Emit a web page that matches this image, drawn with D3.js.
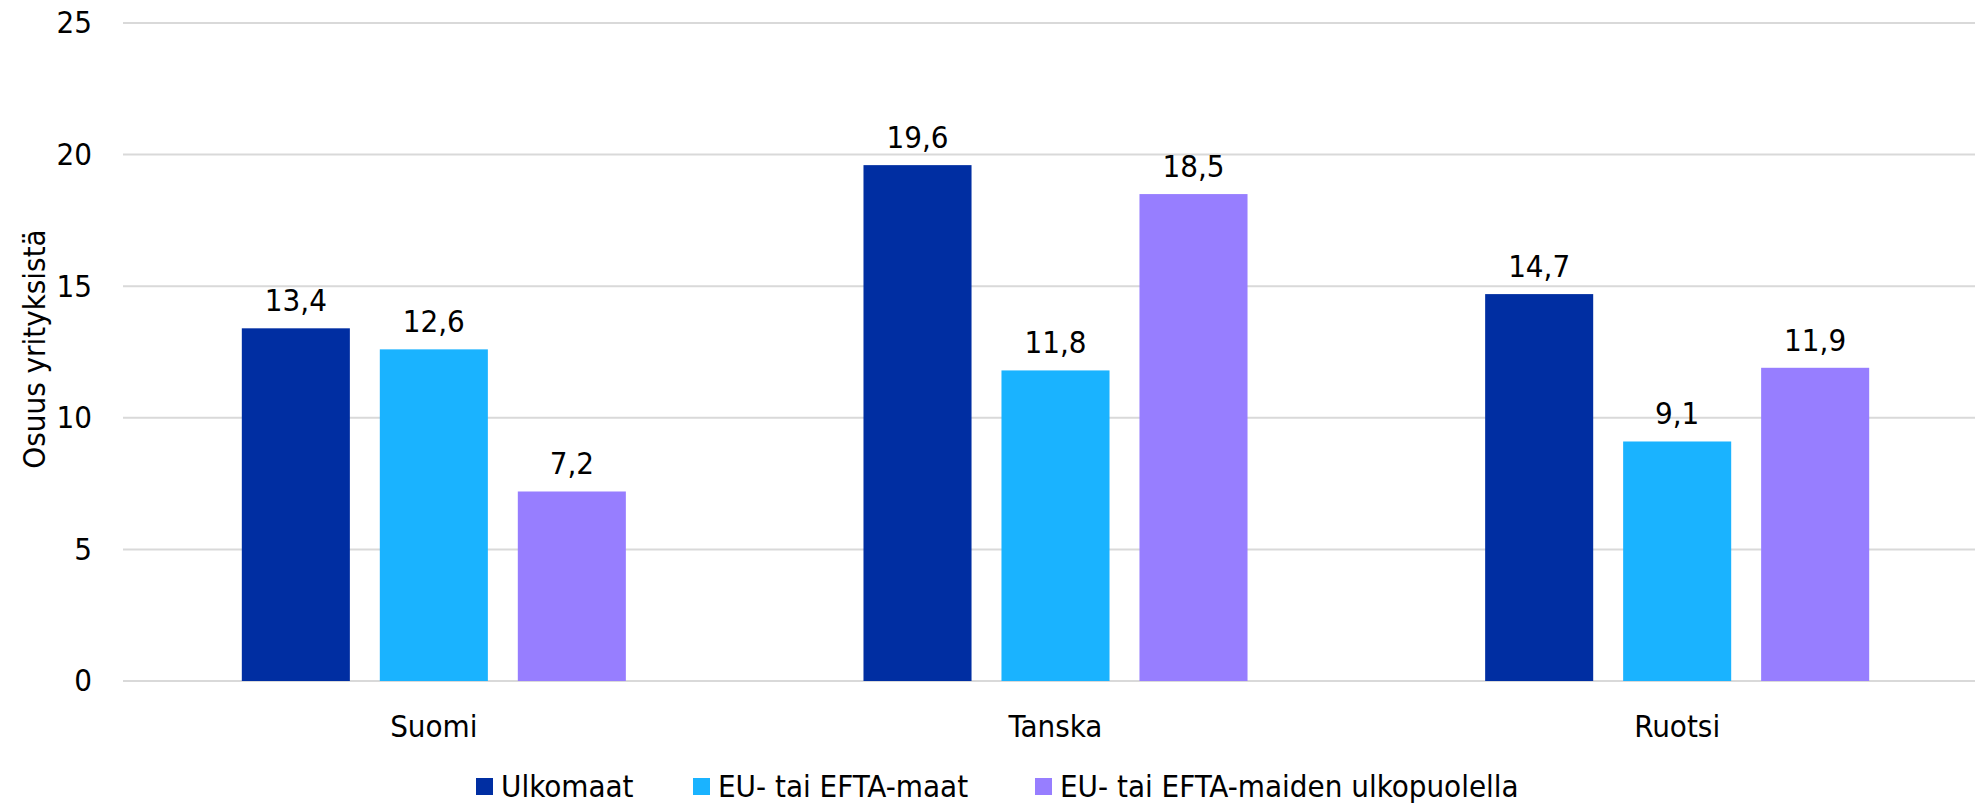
<!DOCTYPE html>
<html><head><meta charset="utf-8">
<script src="https://cdn.jsdelivr.net/npm/d3@7/dist/d3.min.js"></script>
<style>
html,body{margin:0;padding:0;background:#fff;}
svg text{font-family:"DejaVu Sans Condensed","DejaVu Sans",sans-serif;font-stretch:condensed;fill:#000;}
</style></head>
<body>
<svg id="chart" width="1975" height="803"></svg>
<script>
const categories = ["Suomi", "Tanska", "Ruotsi"];
const seriesNames = ["Ulkomaat", "EU- tai EFTA-maat", "EU- tai EFTA-maiden ulkopuolella"];
const ulkomaat = [13.4, 19.6, 14.7];
const euEfta = [12.6, 11.8, 9.1];
const ulkopuolella = [7.2, 18.5, 11.9];
const yTicks = [0, 5, 10, 15, 20, 25];
const colors = ["#002EA2", "#1AB3FF", "#977EFF"];
const yTitle = "Osuus yrityksistä";

(function(){
const series = [ulkomaat, euEfta, ulkopuolella];
const svg = d3.select("#chart");
const W = 1975;
const mLeft = 123, mRight = 1988, mTop = 23, mBottom = 681;
const fs = 31;

const x0 = d3.scaleBand().domain(categories).range([mLeft, mRight]).paddingInner(0).paddingOuter(0);
const x1 = d3.scaleBand().domain(d3.range(series.length)).range([0, x0.bandwidth()]).paddingInner(0.217).paddingOuter(0.861);
const y = d3.scaleLinear().domain([0, 25]).range([mBottom, mTop]);

svg.append("g").selectAll("line").data(yTicks).join("line")
  .attr("x1", mLeft).attr("x2", W)
  .attr("y1", d => y(d)).attr("y2", d => y(d))
  .attr("stroke", "#D9D9D9").attr("stroke-width", 2);

const yAxis = d3.axisLeft(y).tickValues(yTicks).tickSize(0).tickPadding(0).tickFormat(d => d);
const gy = svg.append("g").attr("transform", `translate(92,0)`).call(yAxis);
gy.select(".domain").remove();
gy.attr("font-family", null).attr("font-size", null);
gy.selectAll("text").attr("font-size", fs).attr("fill", "#000");

const xAxis = d3.axisBottom(x0).tickSize(0).tickPadding(0);
const gx = svg.append("g").attr("transform", `translate(0,${mBottom})`).call(xAxis);
gx.select(".domain").remove();
gx.attr("font-family", null).attr("font-size", null);
gx.selectAll("text").attr("font-size", fs).attr("fill", "#000").attr("dy", null).attr("y", 56);

const groups = svg.append("g").selectAll("g").data(categories).join("g")
  .attr("transform", d => `translate(${x0(d)},0)`);
groups.each(function(cat, ci) {
  const g = d3.select(this);
  series.forEach((s, si) => {
    const v = s[ci];
    g.append("rect")
      .attr("x", x1(si)).attr("width", x1.bandwidth())
      .attr("y", y(v)).attr("height", y(0) - y(v))
      .attr("fill", colors[si]);
    g.append("text")
      .attr("x", x1(si) + x1.bandwidth() / 2)
      .attr("y", y(v) - 17)
      .attr("text-anchor", "middle")
      .attr("font-size", fs)
      .text(d3.format(".1f")(v).replace(".", ","));
  });
});

svg.append("text")
  .attr("transform", `translate(45,349) rotate(-90)`)
  .attr("text-anchor", "middle")
  .attr("font-size", fs)
  .text(yTitle);

const legendX = [476, 693, 1035];
const lg = svg.append("g");
seriesNames.forEach((n, i) => {
  lg.append("rect").attr("x", legendX[i]).attr("y", 778).attr("width", 17).attr("height", 17).attr("fill", colors[i]);
  lg.append("text").attr("x", legendX[i] + 25).attr("y", 797).attr("font-size", fs).text(n);
});
})();
</script>
</body></html>
